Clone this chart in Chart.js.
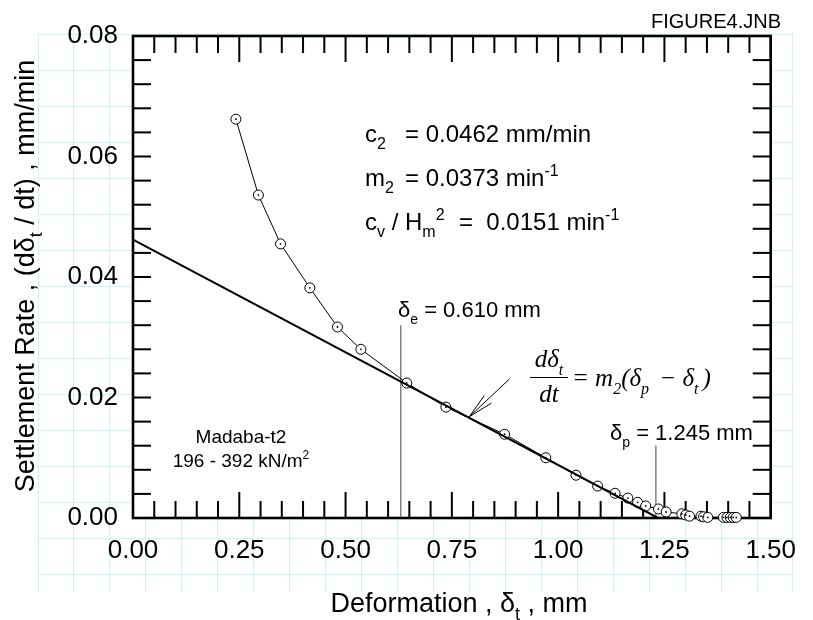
<!DOCTYPE html>
<html>
<head>
<meta charset="utf-8">
<script src="https://cdn.jsdelivr.net/npm/chart.js@4.4.1/dist/chart.umd.min.js"></script>
<style>
html, body { margin: 0; padding: 0; background: #fff; }
</style>
</head>
<body>
<canvas id="figure4" width="813" height="620"></canvas>
<script>
// measured settlement rate against deformation, Madaba-t2, 196 - 392 kN/m2
let deformation = [0.242, 0.295, 0.347, 0.416, 0.481, 0.536, 0.644, 0.736, 0.874, 0.971,
    1.042, 1.093, 1.134, 1.164, 1.187, 1.206, 1.236, 1.254, 1.291, 1.300,
    1.309, 1.336, 1.342, 1.352, 1.389, 1.397, 1.405, 1.412, 1.419];
let rate = [0.0662, 0.0536, 0.0455, 0.0382, 0.0317, 0.0280, 0.0224, 0.0184, 0.0139, 0.0100,
    0.0071, 0.0053, 0.0041, 0.0033, 0.0026, 0.0020, 0.0015, 0.0010, 0.0007, 0.0005,
    0.0003, 0.0003, 0.0002, 0.0001, 0.0001, 0.0001, 0.0001, 0.0001, 0.0001];

// fitted straight line  d(delta)/dt = m2 (delta_p - delta_t)
let fitX = [0, 1.235];
let fitY = [0.0462, 0];

// marker lines for delta_e and delta_p, and the arrow pointing at the fit
let deltaEX = [0.63, 0.63];
let deltaEY = [0, 0.032];
let deltaPX = [1.23, 1.23];
let deltaPY = [0, 0.012];
let arrowX = [0.886, 0.791];
let arrowY = [0.0231, 0.0168];

// axis ticks
let xTicks = [0, 0.05, 0.10, 0.15, 0.20, 0.25, 0.30, 0.35, 0.40, 0.45, 0.50, 0.55, 0.60, 0.65, 0.70,
    0.75, 0.80, 0.85, 0.90, 0.95, 1.00, 1.05, 1.10, 1.15, 1.20, 1.25, 1.30, 1.35, 1.40, 1.45, 1.50];
let xLabels = ['0.00', '0.25', '0.50', '0.75', '1.00', '1.25', '1.50'];
let yTicks = [0, 0.004, 0.008, 0.012, 0.016, 0.020, 0.024, 0.028, 0.032, 0.036, 0.040,
    0.044, 0.048, 0.052, 0.056, 0.060, 0.064, 0.068, 0.072, 0.076, 0.080];
let yLabels = ['0.00', '0.02', '0.04', '0.06', '0.08'];

let sans = '"Liberation Sans", Arial, Helvetica, sans-serif';
let serif = '"Liberation Serif", "Times New Roman", serif';

function toPoints(xs, ys) {
    return xs.map((x, i) => ({ x: x, y: ys[i] }));
}

function labelFor(value, labels) {
    let found = labels.find(l => Math.abs(parseFloat(l) - value) < 1e-9);
    return found === undefined ? '' : found;
}

function line(ctx, x1, y1, x2, y2) {
    ctx.beginPath();
    ctx.moveTo(x1, y1);
    ctx.lineTo(x2, y2);
    ctx.stroke();
}

// parts: [text, 'sub' | 'sup' | ''] drawn one after another on a baseline
function drawRich(ctx, parts, x, y, size, family, align, style = '') {
    let fonts = parts.map(p => style + (p[1] ? Math.round(size * 0.65) : size) + 'px ' + family);
    let widths = parts.map((p, i) => { ctx.font = fonts[i]; return ctx.measureText(p[0]).width; });
    let total = widths.reduce((a, b) => a + b, 0);
    let cx = x;
    if (align === 'center') cx = x - total / 2;
    if (align === 'right') cx = x - total;
    ctx.textAlign = 'left';
    ctx.textBaseline = 'alphabetic';
    parts.forEach((p, i) => {
        ctx.font = fonts[i];
        let dy = 0;
        if (p[1] === 'sub') dy = size * 0.3;
        if (p[1] === 'sup') dy = -size * 0.42;
        ctx.fillText(p[0], cx, y + dy);
        cx += widths[i];
    });
    return total;
}

let paperPlugin = {
    id: 'paper',
    beforeDraw(chart) {
        let ctx = chart.ctx;
        let area = chart.chartArea;
        ctx.save();
        ctx.fillStyle = '#fff';
        ctx.fillRect(0, 0, chart.width, chart.height);
        // graph paper behind the figure
        ctx.strokeStyle = '#c9f5f5';
        ctx.lineWidth = 1;
        for (let i = 0; i <= 21; i++) {
            let x = Math.round(37.5 + i * 35.95) + 0.5;
            line(ctx, x, 33, x, 592);
        }
        for (let j = 0; j <= 15; j++) {
            let y = Math.round(33.6 + j * 36) + 0.5;
            line(ctx, 37, y, 792, y);
        }
        ctx.fillStyle = '#fff';
        ctx.fillRect(area.left, area.top, area.right - area.left, area.bottom - area.top);
        ctx.restore();
    },
    beforeDatasetsDraw(chart) {
        let ctx = chart.ctx;
        let area = chart.chartArea;
        let xs = chart.scales.x;
        let ys = chart.scales.y;
        ctx.save();
        ctx.strokeStyle = '#000';
        ctx.lineWidth = 2;
        xs.ticks.forEach(t => {
            let px = xs.getPixelForValue(t.value);
            let len = labelFor(t.value, xLabels) ? 26 : 17;
            line(ctx, px, area.bottom, px, area.bottom - len);
            line(ctx, px, area.top, px, area.top + len);
        });
        ys.ticks.forEach(t => {
            let py = ys.getPixelForValue(t.value);
            line(ctx, area.left, py, area.left + 18, py);
            line(ctx, area.right, py, area.right - 18, py);
        });
        ctx.lineWidth = 2.6;
        ctx.strokeRect(area.left, area.top, area.right - area.left, area.bottom - area.top);
        ctx.restore();
    },
    afterDatasetsDraw(chart) {
        let ctx = chart.ctx;
        let xs = chart.scales.x;
        let ys = chart.scales.y;
        let px = v => xs.getPixelForValue(v);
        let py = v => ys.getPixelForValue(v);
        ctx.save();
        ctx.fillStyle = '#000';
        ctx.strokeStyle = '#000';

        // arrow to the fitted line
        let x1 = px(arrowX[0]), y1 = py(arrowY[0]);
        let x2 = px(arrowX[1]), y2 = py(arrowY[1]);
        ctx.lineWidth = 1;
        line(ctx, x1, y1, x2, y2);
        let ang = Math.atan2(y1 - y2, x1 - x2);
        [-0.2, 0.2].forEach(d => {
            line(ctx, x2, y2, x2 + 26 * Math.cos(ang + d), y2 + 26 * Math.sin(ang + d));
        });

        // constants of the fit
        drawRich(ctx, [['c', ''], ['2', 'sub']], 365, 142, 24, sans, 'left');
        drawRich(ctx, [['= 0.0462 mm/min', '']], 405, 142, 24, sans, 'left');
        drawRich(ctx, [['m', ''], ['2', 'sub']], 365, 186, 24, sans, 'left');
        drawRich(ctx, [['= 0.0373 min', ''], ['-1', 'sup']], 405, 186, 24, sans, 'left');
        drawRich(ctx, [['c', ''], ['v', 'sub'], [' / H', ''], ['m', 'sub'], ['2', 'sup']], 365, 230, 24, sans, 'left');
        drawRich(ctx, [['=  0.0151 min', ''], ['-1', 'sup']], 459, 230, 24, sans, 'left');

        drawRich(ctx, [['δ', ''], ['e', 'sub'], [' = 0.610 mm', '']], 398, 317, 22, sans, 'left');
        drawRich(ctx, [['δ', ''], ['p', 'sub'], [' = 1.245 mm', '']], 610, 440, 22, sans, 'left');

        drawRich(ctx, [['Madaba-t2', '']], 241, 443, 19, sans, 'center');
        drawRich(ctx, [['196 - 392 kN/m', ''], ['2', 'sup']], 241, 467, 19, sans, 'center');

        // rate equation
        drawRich(ctx, [['dδ', ''], ['t', 'sub']], 549, 367, 25, serif, 'center', 'italic ');
        ctx.lineWidth = 1;
        line(ctx, 530, 377.5, 568, 377.5);
        drawRich(ctx, [['dt', '']], 549, 402, 25, serif, 'center', 'italic ');
        drawRich(ctx, [['= m', ''], ['2', 'sub'], ['(δ', ''], ['p ', 'sub'], [' − δ', ''], ['t ', 'sub'], [')', '']], 572, 386, 25, serif, 'left', 'italic ');

        drawRich(ctx, [['FIGURE4.JNB', '']], 781, 28, 20, sans, 'right');

        // axis titles
        drawRich(ctx, [['Deformation , δ', ''], ['t', 'sub'], [' , mm', '']], 459, 612, 27, sans, 'center');
        ctx.translate(34, 276);
        ctx.rotate(-Math.PI / 2);
        drawRich(ctx, [['Settlement Rate , (dδ', ''], ['t', 'sub'], [' / dt) , mm/min', '']], 0, 0, 27, sans, 'center');
        ctx.restore();
    }
};

let measured = toPoints(deformation, rate);

new Chart(document.getElementById('figure4'), {
    type: 'scatter',
    data: {
        datasets: [{
            label: 'Fit',
            data: toPoints(fitX, fitY),
            showLine: true,
            borderColor: '#000',
            borderWidth: 2,
            pointRadius: 0,
            order: 2
        }, {
            label: 'Madaba-t2',
            data: measured,
            showLine: true,
            borderColor: '#000',
            borderWidth: 1,
            pointRadius: 5,
            pointBorderWidth: 1,
            pointBackgroundColor: '#fff',
            pointBorderColor: '#000',
            clip: false,
            order: 3
        }, {
            label: 'centres',
            data: measured,
            showLine: false,
            pointRadius: 0.9,
            pointBorderWidth: 0,
            pointBackgroundColor: '#000',
            clip: false,
            order: 1
        }, {
            label: 'delta e',
            data: toPoints(deltaEX, deltaEY),
            showLine: true,
            borderColor: '#444',
            borderWidth: 1,
            pointRadius: 0,
            order: 4
        }, {
            label: 'delta p',
            data: toPoints(deltaPX, deltaPY),
            showLine: true,
            borderColor: '#444',
            borderWidth: 1,
            pointRadius: 0,
            order: 4
        }]
    },
    options: {
        responsive: false,
        animation: false,
        devicePixelRatio: 1,
        layout: { padding: { top: 36, right: 28, left: 0, bottom: 0 } },
        plugins: {
            legend: { display: false },
            tooltip: { enabled: false }
        },
        scales: {
            x: {
                type: 'linear',
                min: 0,
                max: 1.5,
                afterBuildTicks: s => { s.ticks = xTicks.map(v => ({ value: v })); },
                afterFit: s => { s.height = 102; },
                grid: { display: false, drawTicks: false },
                border: { display: false },
                ticks: {
                    autoSkip: false,
                    maxRotation: 0,
                    padding: 17,
                    color: '#000',
                    font: { family: sans, size: 26 },
                    callback: v => labelFor(v, xLabels)
                }
            },
            y: {
                type: 'linear',
                min: 0,
                max: 0.08,
                afterBuildTicks: s => { s.ticks = yTicks.map(v => ({ value: v })); },
                afterFit: s => { s.width = 133; },
                grid: { display: false, drawTicks: false },
                border: { display: false },
                ticks: {
                    autoSkip: false,
                    padding: 15,
                    color: '#000',
                    font: { family: sans, size: 26 },
                    callback: v => labelFor(v, yLabels)
                }
            }
        }
    },
    plugins: [paperPlugin]
});
</script>
</body>
</html>
